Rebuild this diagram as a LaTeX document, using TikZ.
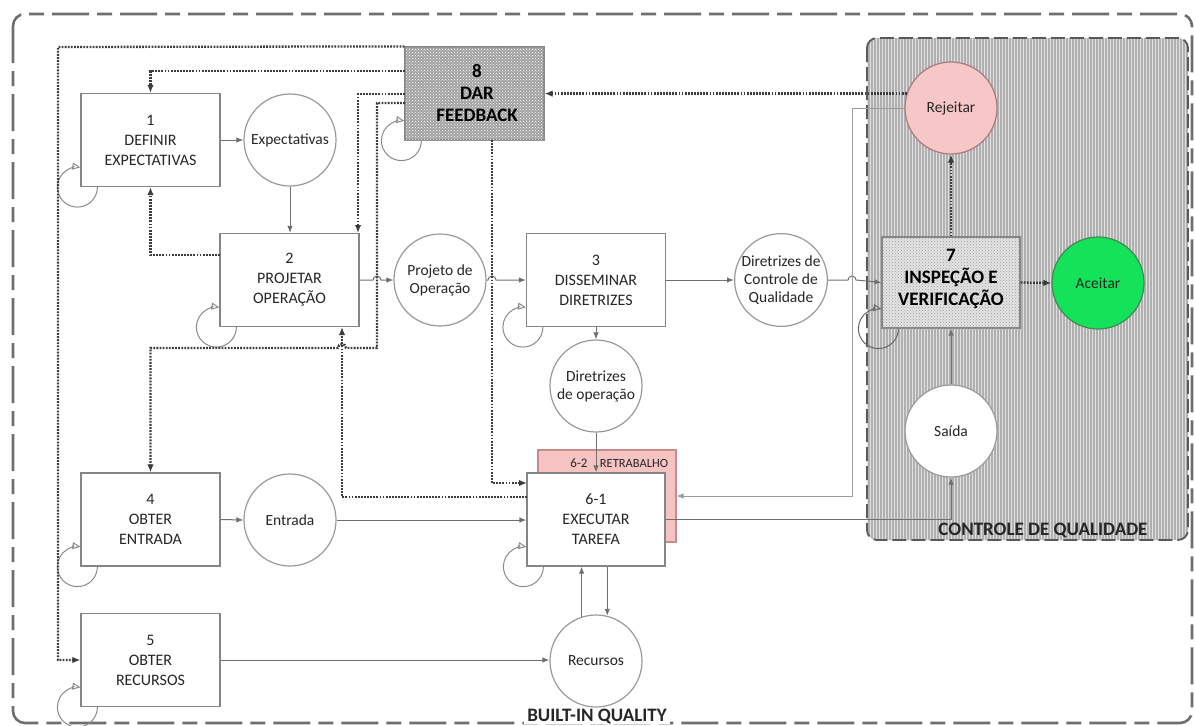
\documentclass[tikz,border=0pt]{standalone}
\usepackage{fontspec}
\setmainfont{Carlito}
\usetikzlibrary{arrows.meta,patterns}
\definecolor{boxgray}{HTML}{858585}
\definecolor{circgray}{HTML}{9A9A9A}
\definecolor{linegray}{HTML}{707070}
\definecolor{lightline}{HTML}{9C9C9C}
\definecolor{dotgray}{HTML}{3C3C3C}
\definecolor{loopgray}{HTML}{8A8A8A}
\definecolor{framegray}{HTML}{6E6E6E}
\definecolor{txt}{HTML}{262626}
\definecolor{pinkfill}{HTML}{F6C3C3}
\definecolor{pinkdraw}{HTML}{C98A8A}
\definecolor{rejfill}{HTML}{F7C6C6}
\definecolor{rejdraw}{HTML}{A67C7C}
\definecolor{accfill}{HTML}{14E35A}
\definecolor{accdraw}{HTML}{3E8A52}
\newcommand\selfloop[2][]{\draw[sloop,#1] ([xshift=17pt]#2.south west) arc[start angle=0,end angle=-278.63,radius=20pt];}
\begin{document}
\begin{tikzpicture}[x=1pt,y=-1pt,
  pbox/.style={draw=boxgray, line width=1.2pt, fill=white, minimum width=139pt, minimum height=93pt, align=center, font=\fontsize{16}{20}\selectfont, text=txt, inner sep=0pt},
  circ/.style={circle, draw=circgray, line width=1.2pt, fill=white, minimum size=92pt, inner sep=0pt, align=center, font=\fontsize{15.5}{18}\selectfont, text=txt},
  flow/.style={draw=linegray, line width=1pt, -{Latex[length=7pt,width=5.5pt]}},
  fb/.style={draw=dotgray, line width=2.3pt, dash pattern=on 1.8pt off 1.3pt, -{Latex[length=8pt,width=6.5pt]}},
  sloop/.style={draw=loopgray, line width=1pt, -{Triangle[open,length=8pt,width=7pt]}},
  biglabel/.style={font=\bfseries\fontsize{19}{22}\selectfont, text=txt, inner sep=0pt}
]
\useasboundingbox (0,0) rectangle (1195,726);
% quality control area
\fill[gray!62, rounded corners=10pt, postaction={pattern=vertical lines, pattern color=gray!25}] (867,38) rectangle (1188,540);
\draw[draw=black!65, line width=1.8pt, dash pattern=on 14pt off 5pt, rounded corners=10pt] (867,38) rectangle (1188,540);
% outer frame
\draw[dash pattern=on 37pt off 8pt on 15pt off 8pt, line width=2.6pt, draw=framegray, rounded corners=12pt] (13,14) rectangle (1192,723);

% boxes
\node[pbox] (b1) at (150.5,140) {1\\DEFINIR\\EXPECTATIVAS};
\node[pbox] (b2) at (289.5,280) {2\\PROJETAR\\OPERAÇÃO};
\node[pbox] (b3) at (596,280) {3\\DISSEMINAR\\DIRETRIZES};
\node[pbox] (b4) at (150.5,519.5) {4\\OBTER\\ENTRADA};
\node[pbox] (b5) at (150.5,660) {5\\OBTER\\RECURSOS};
\node[pbox, fill=pinkfill, draw=pinkdraw, minimum width=138pt, minimum height=92pt] (b62) at (607,496) {};
\node[anchor=base, font=\fontsize{13}{15}\selectfont, text=txt] (l62) at (579,467) {6-2};
\node[anchor=base, font=\fontsize{12.5}{15}\selectfont, text=txt] (lre) at (634,467) {RETRABALHO};
\node[pbox, minimum width=138pt] (b61) at (596,519.5) {6-1\\EXECUTAR\\TAREFA};
\node[pbox, fill=gray!72, postaction={pattern=crosshatch dots, pattern color=white}] (b8) at (474.5,93.5) {};
\node[font=\bfseries\fontsize{19}{22}\selectfont, text=black, align=center] (t8) at (477,93.5) {8\\DAR\\FEEDBACK};
\node[pbox, minimum width=138pt, minimum height=91pt, fill=gray!22, postaction={pattern=crosshatch dots, pattern color=gray!75}] (b7) at (951,282.5) {};
\node[font=\bfseries\fontsize{19}{22}\selectfont, text=black, align=center] (t7) at (951,279) {7\\INSPEÇÃO E\\VERIFICAÇÃO};

% circles
\node[circ] (expect) at (290,140) {Expectativas};
\node[circ] (proj) at (440,280) {Projeto de\\Operação};
\node[circ] (dc) at (781,280) {Diretrizes de\\Controle de\\Qualidade};
\node[circ] (dop) at (596,386) {Diretrizes\\de operação};
\node[circ] (ent) at (290,520) {Entrada};
\node[circ] (rec) at (596,661) {Recursos};
\node[circ, fill=rejfill, draw=rejdraw] (rej) at (951,108) {Rejeitar};
\node[circ, fill=accfill, draw=accdraw] (acc) at (1098,283) {Aceitar};
\node[circ] (saida) at (951,431) {Saída};

% labels
\node[biglabel, anchor=base] (lcq) at (1043,535) {CONTROLE DE QUALIDADE};
\node[biglabel, anchor=base, fill=white, inner xsep=3pt, inner ysep=1pt] (lbq) at (597,721) {BUILT-IN QUALITY};

% self loops
\selfloop{b1}
\selfloop{b2}
\selfloop{b3}
\selfloop{b4}
\selfloop{b5}
\selfloop{b61}
\selfloop{b8}
\selfloop[draw=black!60]{b7}

% solid flows
\draw[flow] (b1.east) -- (expect.west);
\draw[flow] (expect.south) -- (expect.south |- b2.north);
\draw[flow] (b2.east) -- (373,280) arc[start angle=180,end angle=0,radius=4pt] -- (proj.west);
\draw[flow] (proj.east) -- (488,280) arc[start angle=180,end angle=0,radius=4pt] -- (b3.west);
\draw[flow] (b3.east) -- (dc.west);
\draw[flow] (dc.east) -- (848,280) arc[start angle=180,end angle=0,radius=4pt] -- (b7.west);
\draw[flow] (b3.south) -- (dop.north);
\draw[flow] (dop.south) -- (b61.north);
\draw[flow] (b4.east) -- (ent.west);
\draw[flow] (ent.east) -- (ent.east -| b61.west);
\draw[flow] (b5.east) -- (b5.east -| rec.west);
\draw[flow] (rec.108) -- (rec.108 |- b61.south);
\draw[flow] (b61.south -| rec.76) -- (rec.76);
\draw[flow] (b61.east) -- (b61.east -| saida.south) -- (saida.south);
\draw[flow] (saida.north) -- (b7.south);
\draw[flow, draw=lightline] (rej.west) -- (852,108) -- (852,496) -- (b62.east);

% feedback (dotted)
\coordinate (fbA) at (405,71);
\coordinate (fbB) at (405,94);
\coordinate (fbC) at (405,103);
\coordinate (fbD) at (220,255);
\coordinate (fbE) at (527,497);
\coordinate (fbF) at (492,140);
\coordinate (t2a) at (358,233);
\coordinate (t2b) at (342,327);
\coordinate (t61) at (527,483);
\draw[fb] (b7.east) -- (acc.west);
\draw[fb] (b7.north) -- (rej.south);
\draw[fb] (rej.162) -- (rej.162 -| b8.east);
\draw[fb] (b8.north west) -- (58,47) -- (58,660) -- (b5.west);
\draw[fb] (fbA) -- (fbA -| b1.north) -- (b1.north);
\draw[fb] (fbB) -- (358,94) -- (t2a);
\draw[fb] (fbC) -- (377,103) -- (377,348) -- (346,348) arc[start angle=0,end angle=180,radius=4pt] -- (150.5,348) -- (b4.north);
\draw[fb] (fbD) -- (150.5,255) -- (b1.south);
\draw[fb] (fbE) -- (342,497) -- (t2b);
\draw[fb] (fbF) -- (492,483) -- (t61);
\end{tikzpicture}
\end{document}
